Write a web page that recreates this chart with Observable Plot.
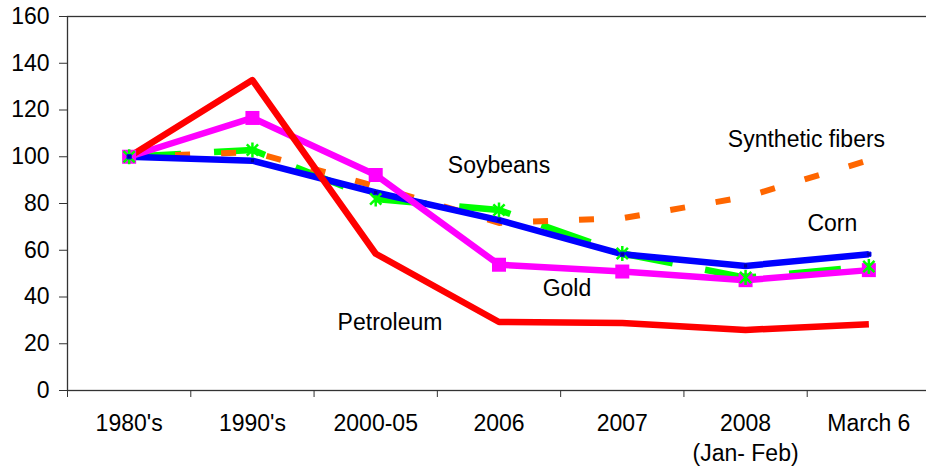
<!DOCTYPE html>
<html>
<head>
<meta charset="utf-8">
<script src="https://cdn.jsdelivr.net/npm/d3@7"></script>
<script src="https://cdn.jsdelivr.net/npm/@observablehq/plot@0.6"></script>
<style>
  html, body { margin: 0; padding: 0; background: #fff; overflow: hidden; }
  #chart svg { display: block; }
</style>
</head>
<body>
<div id="chart"></div>
<script>
// ---- data (index values, 1980's = 100) ----
const categories = ["1980's", "1990's", "2000-05", "2006", "2007", "2008\n(Jan- Feb)", "March 6"];
const petroleum       = [100, 132.8, 58.5, 29.3, 28.9, 25.9, 28.3];
const gold            = [100, 116.6, 92.2, 53.8, 50.9, 47.2, 51.5];
const corn            = [100, 98.3, 84.7, 72.9, 58.3, 53.3, 58.3];
const soybeans        = [100, 102.9, 81.9, 77.2, 58.6, 48.3, 53.0];
const syntheticFibers = [100, 102.0, 87.4, 71.7, 73.7, 82.8, 98.5];
const yTicks = [0, 20, 40, 60, 80, 100, 120, 140, 160];
// series name labels, in data units (category index, value)
const labelNames = ["Soybeans", "Synthetic fibers", "Corn", "Gold", "Petroleum"];
const labelX = [3.0, 5.494, 5.704, 3.551, 2.116];
const labelY = [96.1, 107.5, 71.6, 43.4, 28.9];

// ---- build tables ----
const rows = vals => vals.map((v, i) => ({i, v}));
const labels = labelNames.map((name, k) => ({name, x: labelX[k], y: labelY[k]}));
const boundaries = d3.range(categories.length + 1).map(k => k - 0.5);
const catIdx = categories.map((c, i) => ({c, i}));

// Excel-like "star" marker: X plus vertical line
const star = {
  draw(ctx, size) {
    const r = Math.sqrt(size / Math.PI);
    const d = r * 0.75;
    ctx.moveTo(-d, -d); ctx.lineTo(d, d);
    ctx.moveTo(-d, d); ctx.lineTo(d, -d);
    ctx.moveTo(0, -r); ctx.lineTo(0, r);
  }
};

const FONT = "'Liberation Sans', Arial, sans-serif";
const FS = 23;

const chart = Plot.plot({
  width: 926,
  height: 468,
  marginLeft: 67,
  marginRight: -4,
  marginTop: 16,
  marginBottom: 78,
  style: {fontFamily: FONT, fontSize: FS + "px", color: "#000", background: "#fff"},
  x: {type: "linear", domain: [-0.5, categories.length - 0.5]},
  y: {domain: [0, 160]},
  marks: [
    Plot.frame({stroke: "#333", strokeWidth: 1.3}),
    Plot.axisY({ticks: yTicks, tickSize: 8, tickPadding: 10, label: null, fontSize: FS, stroke: "#333"}),
    Plot.axisX({ticks: boundaries, tickSize: 7, tickFormat: () => "", label: null, stroke: "#333"}),
    Plot.text(catIdx, {x: "i", text: "c", frameAnchor: "bottom", lineAnchor: "top", dy: 19, lineHeight: 1.3, fontSize: FS, fill: "#000"}),

    Plot.line(rows(soybeans), {x: "i", y: "v", stroke: "#00FF00", strokeWidth: 6.5, strokeDasharray: "52,33", strokeLinecap: "butt", strokeLinejoin: "round"}),
    Plot.line(rows(syntheticFibers), {x: "i", y: "v", stroke: "#FF6600", strokeWidth: 6, strokeDasharray: "15,31", strokeLinecap: "butt", strokeLinejoin: "round"}),
    Plot.line(rows(corn), {x: "i", y: "v", stroke: "#0000FF", strokeWidth: 6.5, strokeLinecap: "butt", strokeLinejoin: "round"}),
    Plot.line(rows(gold), {x: "i", y: "v", stroke: "#FF00FF", strokeWidth: 6.5, strokeLinecap: "butt", strokeLinejoin: "round"}),
    Plot.line(rows(petroleum), {x: "i", y: "v", stroke: "#FF0000", strokeWidth: 6.5, strokeLinecap: "butt", strokeLinejoin: "round"}),

    Plot.dot(rows(gold), {x: "i", y: "v", symbol: "square", r: 7.9, fill: "#FF00FF"}),
    Plot.dot(rows(soybeans), {x: "i", y: "v", symbol: star, r: 7.5, stroke: "#00FF00", strokeWidth: 2.5, fill: "none"}),
    Plot.dot(rows(corn), {x: "i", y: "v", symbol: "square", r: 2.4, fill: "#000099", stroke: "#0000FF", strokeWidth: 1}),

    Plot.text(labels, {x: "x", y: "y", text: "name", textAnchor: "middle", lineAnchor: "middle", fontSize: FS, fill: "#000"})
  ]
});
document.getElementById("chart").appendChild(chart);
</script>
</body>
</html>
